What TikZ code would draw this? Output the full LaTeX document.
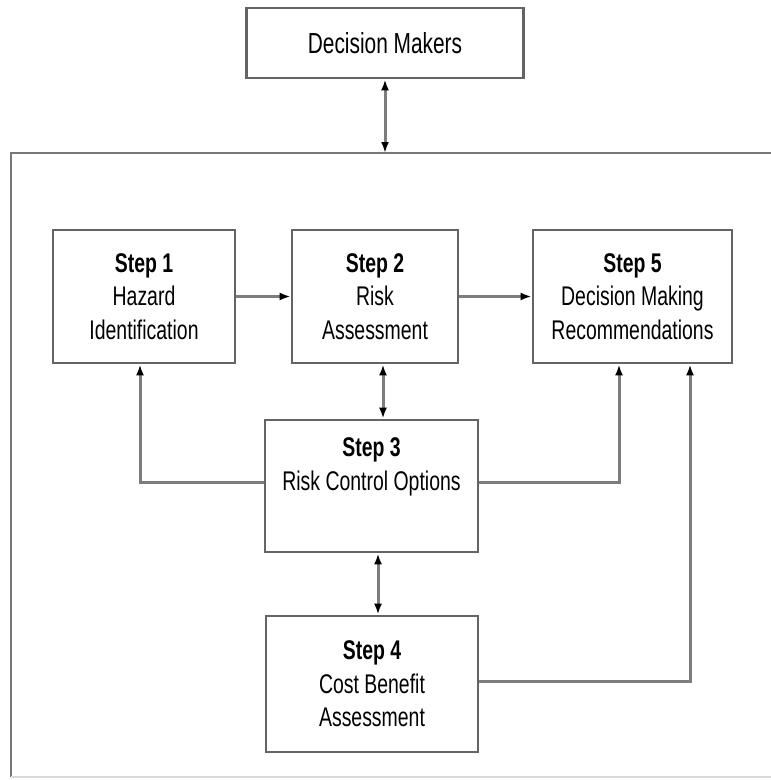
\documentclass[tikz,border=0pt]{standalone}
\usepackage{fontspec}
\setmainfont[FakeStretch=0.72]{Liberation Sans}
\usetikzlibrary{arrows.meta}
\definecolor{boxline}{RGB}{100,100,100}
\definecolor{conline}{RGB}{125,125,125}
\definecolor{frameline}{RGB}{120,120,120}
\begin{document}
\begin{tikzpicture}[x=1pt,y=-1pt,
  stepbox/.style={draw=boxline,line width=2.8pt,fill=white,align=center,inner sep=0pt,
    font=\fontsize{27}{33.5}\selectfont},
  conn/.style={draw=conline,line width=3pt},
  tip/.style={-{Latex[length=11pt,width=8pt,black]}},
  tips/.style={{Latex[length=11pt,width=8pt,black]}-{Latex[length=11pt,width=8pt,black]}}]
\useasboundingbox (0,0) rectangle (771,780);
% frame
\draw[frameline,line width=2.4pt] (771,153) -- (11,153) -- (11,777);
\draw[black!15,line width=2pt] (11,777) -- (771,777);
\coordinate (ftop) at (385,153);
% boxes
\node[stepbox,minimum width=277pt,minimum height=70pt,font=\fontsize{29}{34}\selectfont] (dm) at (385,43) {Decision Makers};
\node[stepbox,minimum width=182pt,minimum height=133pt] (s1) at (144,296.5) {\textbf{Step 1}\\Hazard\\Identification};
\node[stepbox,minimum width=166pt,minimum height=133pt] (s2) at (375,296.5) {\textbf{Step 2}\\Risk\\Assessment};
\node[stepbox,minimum width=199pt,minimum height=133pt] (s5) at (632.5,296.5) {\textbf{Step 5}\\Decision Making\\Recommendations};
\node[stepbox,minimum width=213pt,minimum height=132pt] (s3) at (371.5,486) {\textbf{Step 3}\\Risk Control Options\\\strut};
\node[stepbox,minimum width=212pt,minimum height=136pt] (s4) at (372,684) {\textbf{Step 4}\\Cost Benefit\\Assessment};
% connectors
\draw[conn,tips] (dm.south -| ftop) -- (ftop);
\draw[conn,tip] (s1.east) -- (s2.west);
\draw[conn,tip] (s2.east) -- (s5.west);
\draw[conn,tips] (s2.south -| 383,0) -- (s3.north -| 383,0);
\draw[conn,tips] (s3.south -| 378,0) -- (s4.north -| 378,0);
\draw[conn,tip] (s3.west |- 0,482) -| (s1.south -| 140,0);
\draw[conn,tip] (s3.east |- 0,482) -| (s5.south -| 619,0);
\draw[conn,tip] (s4.east |- 0,681) -| (s5.south -| 690,0);
\end{tikzpicture}
\end{document}
